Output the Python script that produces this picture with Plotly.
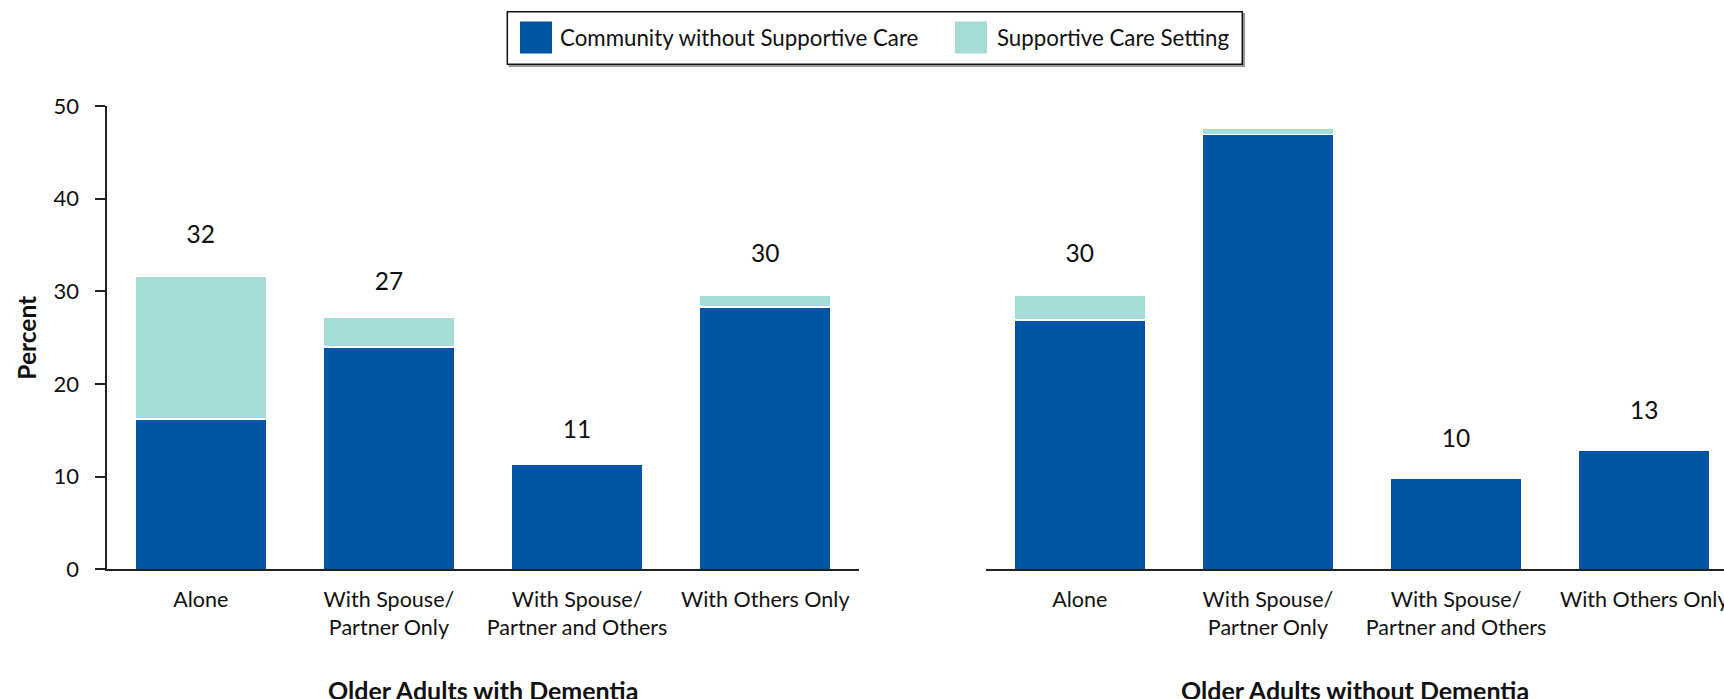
import plotly.graph_objects as go

# Living arrangement categories (shared by both panels)
categories = [
    "Alone",
    "With Spouse/<br>Partner Only",
    "With Spouse/<br>Partner and Others",
    "With Others Only",
]

# Percent of older adults, by residential setting
dementia_community = [16.2, 24.0, 11.3, 28.3]
dementia_supportive = [15.4, 3.2, 0.0, 1.3]
no_dementia_community = [26.9, 46.9, 9.8, 12.8]
no_dementia_supportive = [2.7, 0.7, 0.0, 0.0]

series_names = ["Community without Supportive Care", "Supportive Care Setting"]
panel_titles = ["Older Adults with Dementia", "Older Adults without Dementia"]
y_ticks = [0, 10, 20, 30, 40, 50]

W, H = 1724, 699
DARK = "#0055A4"
LIGHT = "#A6DCD8"
INK = "#111111"
FONT = "Lato, Roboto, sans-serif"


def fx(p):
    return p / W


def fy(p):
    return 1 - p / H


fig = go.Figure()

panels = [
    ("x", "y", dementia_community, dementia_supportive),
    ("x2", "y2", no_dementia_community, no_dementia_supportive),
]
for xa, ya, community, supportive in panels:
    fig.add_trace(go.Bar(
        x=categories, y=community, name=series_names[0],
        marker=dict(color=DARK, line=dict(color="white", width=1.5)),
        xaxis=xa, yaxis=ya, showlegend=False, hoverinfo="skip",
    ))
    fig.add_trace(go.Bar(
        x=categories, y=supportive, name=series_names[1],
        marker=dict(color=LIGHT, line=dict(color="white", width=1.5)),
        xaxis=xa, yaxis=ya, showlegend=False, hoverinfo="skip",
    ))
    totals = [c + s for c, s in zip(community, supportive)]
    labels = [f"{round(t)}" for t in totals]
    label_y = [min(round(t) + 3.85, 51.2) for t in totals]
    fig.add_trace(go.Scatter(
        x=categories, y=label_y, text=labels, mode="text",
        textposition="middle center",
        textfont=dict(family=FONT, size=24.5, color=INK),
        cliponaxis=False, xaxis=xa, yaxis=ya,
        showlegend=False, hoverinfo="skip",
    ))

y_domain = [fy(569.3), fy(106.0)]
x_common = dict(
    type="category", showline=True, linecolor="#222222", linewidth=2,
    ticks="", showgrid=False, zeroline=False, automargin=False,
    tickangle=0, ticklabelstandoff=10,
    tickfont=dict(family=FONT, size=21.5, color=INK),
    fixedrange=True,
)
y_common = dict(
    range=[0, 50], domain=y_domain, showgrid=False, zeroline=False,
    automargin=False, fixedrange=True,
)

fig.update_layout(
    width=W, height=H,
    margin=dict(l=0, r=0, t=0, b=0),
    template="none",
    paper_bgcolor="white", plot_bgcolor="white",
    barmode="stack", bargap=0.3,
    font=dict(family=FONT, color=INK),
    showlegend=False,
    xaxis=dict(domain=[fx(106.7), fx(859.3)], range=[-0.5, 3.5], anchor="y", **x_common),
    xaxis2=dict(domain=[fx(985.7), 1.0], range=[-0.5, 3.424], anchor="y2", **x_common),
    yaxis=dict(
        anchor="x", tickvals=y_ticks, ticks="outside", ticklen=9.5,
        tickwidth=1.5, tickcolor="#222222", showline=True,
        linecolor="#222222", linewidth=1.5,
        tickfont=dict(family=FONT, size=22, color=INK),
        ticklabelstandoff=12, **y_common,
    ),
    yaxis2=dict(anchor="x2", visible=False, **y_common),
)

annotations = []
# panel titles under each group of bars
for xref, title in zip(["x domain", "x2 domain"], panel_titles):
    annotations.append(dict(
        text=f"<b>{title}</b>", xref=xref, x=0.5, yref="paper", y=fy(690),
        xanchor="center", yanchor="middle", showarrow=False,
        font=dict(family=FONT, size=25, color=INK),
    ))
# y-axis title
annotations.append(dict(
    text="<b>Percent</b>", xref="paper", x=fx(27), yref="paper", y=fy(337.7),
    xanchor="center", yanchor="middle", textangle=-90, showarrow=False,
    font=dict(family=FONT, size=24.5, color=INK),
))

# boxed legend drawn across the top
shapes = [
    dict(type="rect", xref="paper", yref="paper",
         x0=fx(509.3), x1=fx(1244.3), y0=fy(66.3), y1=fy(13.7),
         line=dict(color="#9a9a9a", width=1.5), fillcolor="#9a9a9a", layer="above"),
    dict(type="rect", xref="paper", yref="paper",
         x0=fx(507.3), x1=fx(1242.3), y0=fy(64.3), y1=fy(11.7),
         line=dict(color="#111111", width=1.5), fillcolor="white", layer="above"),
]
legend_items = [
    (series_names[0], DARK, 520.0, 558.3),
    (series_names[1], LIGHT, 955.0, 995.0),
]
for name, color, sx, tx in legend_items:
    shapes.append(dict(
        type="rect", xref="paper", yref="paper",
        x0=fx(sx), x1=fx(sx + 32), y0=fy(53.5), y1=fy(21.5),
        line=dict(width=0), fillcolor=color, layer="above",
    ))
    annotations.append(dict(
        text=name, xref="paper", x=fx(tx), yref="paper", y=fy(37.5),
        xanchor="left", yanchor="middle", showarrow=False,
        font=dict(family=FONT, size=22.3, color=INK),
    ))

fig.update_layout(shapes=shapes, annotations=annotations)

fig.write_html("out.html")
